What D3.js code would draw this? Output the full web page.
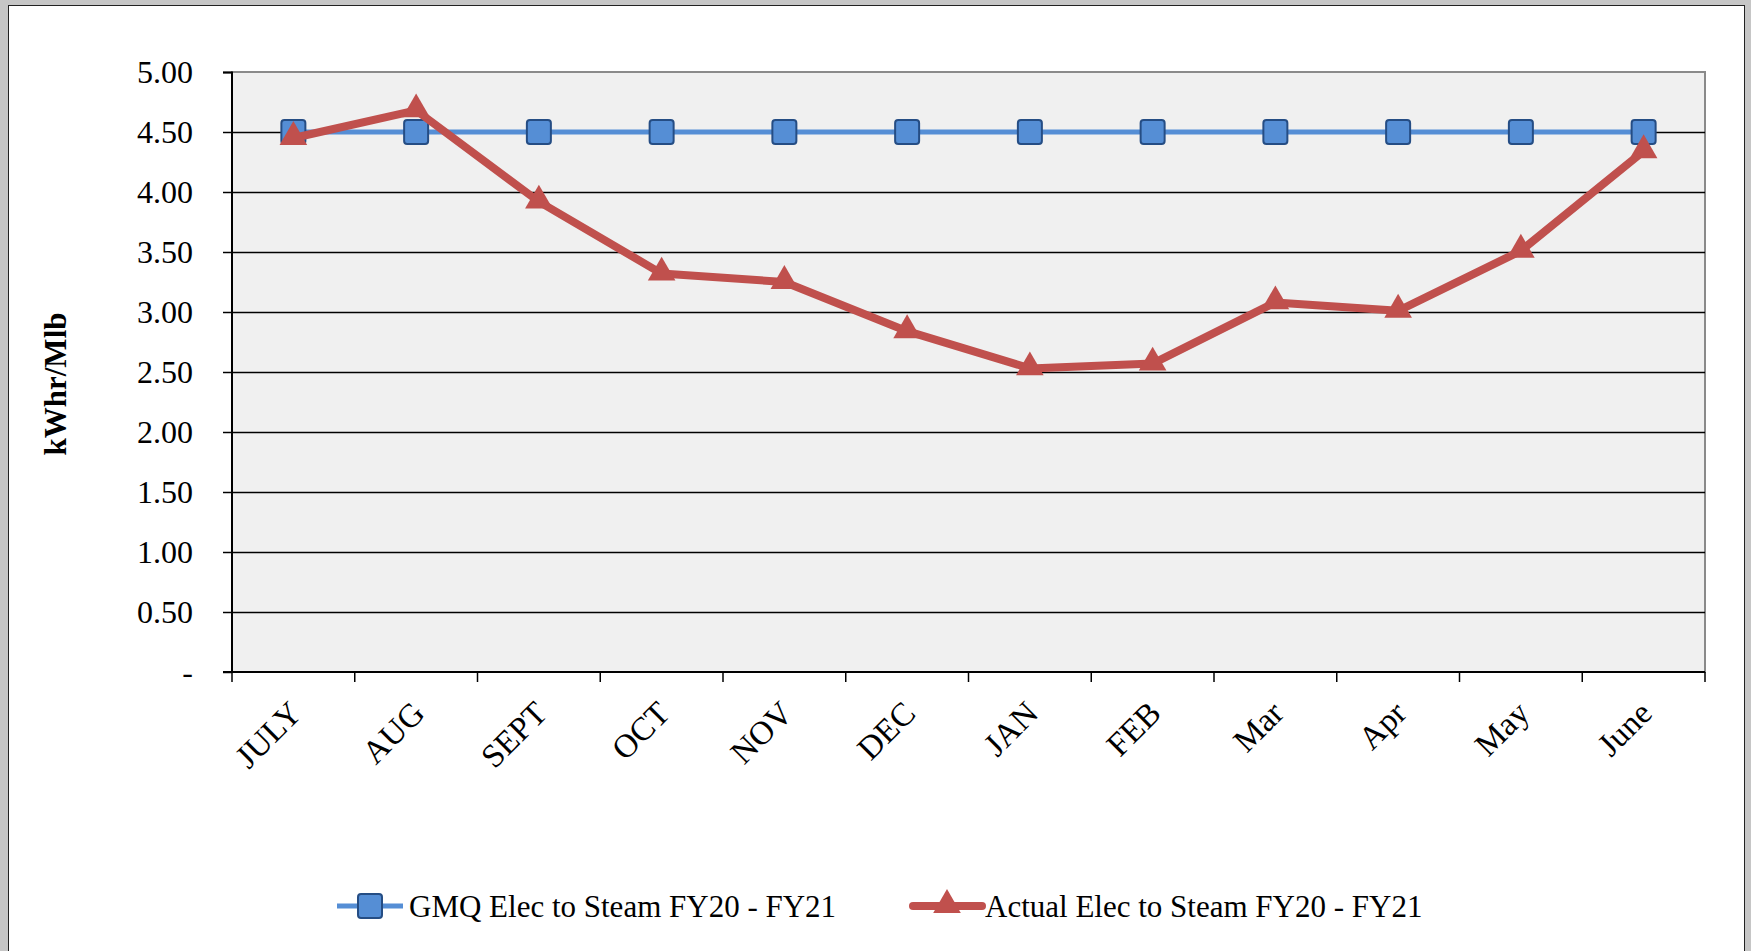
<!DOCTYPE html>
<html>
<head>
<meta charset="utf-8">
<script src="https://cdn.jsdelivr.net/npm/d3@7"></script>
<style>
  body { margin: 0; background: #c6c6c6; }
  svg { display: block; }
  text { font-family: "Liberation Serif", "Times New Roman", serif; fill: #000; }
</style>
</head>
<body>
<svg id="chart" width="1751" height="951"></svg>
<script>
var months = ["JULY", "AUG", "SEPT", "OCT", "NOV", "DEC", "JAN", "FEB", "Mar", "Apr", "May", "June"];
var gmqValues = [4.5, 4.5, 4.5, 4.5, 4.5, 4.5, 4.5, 4.5, 4.5, 4.5, 4.5, 4.5];
var actualValues = [4.45, 4.68, 3.92, 3.32, 3.25, 2.84, 2.53, 2.57, 3.08, 3.01, 3.51, 4.34];
var yTicks = [0, 0.5, 1, 1.5, 2, 2.5, 3, 3.5, 4, 4.5, 5];
var seriesNames = ["GMQ Elec to Steam FY20 - FY21", "Actual Elec to Steam FY20 - FY21"];

var svg = d3.select("#chart"),
    margin = {top: 72, right: 46, bottom: 279, left: 232},
    width = +svg.attr("width") - margin.left - margin.right,
    height = +svg.attr("height") - margin.top - margin.bottom;

// white panel
svg.append("rect")
    .attr("x", 8.5).attr("y", 5.5)
    .attr("width", 1736).attr("height", 960)
    .attr("fill", "#fff").attr("stroke", "#222").attr("stroke-width", 1);

var g = svg.append("g").attr("transform", "translate(" + margin.left + "," + margin.top + ")");

var x = d3.scaleBand().domain(months).range([0, width]);
var y = d3.scaleLinear().domain([0, 5]).range([height, 0]);

// plot area
g.append("rect")
    .attr("width", width).attr("height", height)
    .attr("fill", "#f0f0f0").attr("stroke", "#8a8a8a").attr("stroke-width", 2);

// gridlines
g.append("g").selectAll("line")
    .data(yTicks.slice(1, -1))
    .enter().append("line")
    .attr("x1", 0).attr("x2", width)
    .attr("y1", function(d) { return Math.round(y(d)) + 0.5; })
    .attr("y2", function(d) { return Math.round(y(d)) + 0.5; })
    .attr("stroke", "#000").attr("stroke-width", 1.4);

// y axis
var yAxis = g.append("g")
    .call(d3.axisLeft(y).tickValues(yTicks).tickSize(9).tickPadding(30)
      .tickFormat(function(d) { return d === 0 ? "-" : d3.format(".2f")(d); }));
yAxis.select(".domain").attr("stroke", "#000").attr("stroke-width", 2).attr("d", "M-9,0.5H0V" + height + "H-9");
yAxis.selectAll(".tick line").attr("stroke", "#000").attr("stroke-width", 1.5);
yAxis.selectAll(".tick text").style("font-size", "32px").attr("font-family", null);

// x axis
var xAxis = g.append("g").attr("transform", "translate(0," + height + ")");
xAxis.append("line").attr("x1", -9).attr("x2", width).attr("stroke", "#000").attr("stroke-width", 2);
xAxis.selectAll(".xt")
    .data(d3.range(months.length + 1))
    .enter().append("line")
    .attr("x1", function(i) { return i * x.step(); })
    .attr("x2", function(i) { return i * x.step(); })
    .attr("y1", 0).attr("y2", 10)
    .attr("stroke", "#000").attr("stroke-width", 1.5);
xAxis.selectAll(".xl")
    .data(months)
    .enter().append("text")
    .attr("transform", function(d) {
      return "translate(" + (x(d) + x.bandwidth() / 2 + 2) + ",35) rotate(-45)";
    })
    .attr("text-anchor", "end")
    .attr("dy", "0.35em")
    .style("font-size", "33px")
    .text(function(d) { return d; });

// y axis title
svg.append("text")
    .attr("transform", "translate(66,384) rotate(-90)")
    .attr("text-anchor", "middle")
    .style("font-size", "31px").style("font-weight", "bold")
    .text("kWhr/Mlb");

var line = d3.line()
    .x(function(d, i) { return x(months[i]) + x.bandwidth() / 2; })
    .y(function(d) { return y(d); });

var tri = d3.symbol().type(d3.symbolTriangle).size(330);

function drawSquare(sel, cx, cy) {
  sel.append("rect")
      .attr("x", cx - 12).attr("y", cy - 12)
      .attr("width", 24).attr("height", 24).attr("rx", 3)
      .attr("fill", "#558ed5").attr("stroke", "#254d84").attr("stroke-width", 2);
}

// GMQ series
g.append("path").datum(gmqValues)
    .attr("d", line).attr("fill", "none")
    .attr("stroke", "#558ed5").attr("stroke-width", 5);

gmqValues.forEach(function(v, i) {
  drawSquare(g, x(months[i]) + x.bandwidth() / 2, y(v));
});

// Actual series
g.append("path").datum(actualValues)
    .attr("d", line).attr("fill", "none")
    .attr("stroke", "#c0504d").attr("stroke-width", 8).attr("stroke-linejoin", "round");

g.selectAll(".tri")
    .data(actualValues)
    .enter().append("path")
    .attr("d", tri)
    .attr("transform", function(d, i) {
      return "translate(" + (x(months[i]) + x.bandwidth() / 2) + "," + (y(d) - 1) + ")";
    })
    .attr("fill", "#c0504d");

// legend
var leg = svg.append("g").attr("transform", "translate(0,906)");
leg.append("line").attr("x1", 337).attr("x2", 403).attr("stroke", "#558ed5").attr("stroke-width", 5);
drawSquare(leg, 370, 0);
leg.append("text").attr("x", 409).attr("dy", "0.35em").style("font-size", "31px").text(seriesNames[0]);

leg.append("line").attr("x1", 913).attr("x2", 982).attr("stroke", "#c0504d").attr("stroke-width", 8).attr("stroke-linecap", "round");
leg.append("path").attr("d", tri).attr("transform", "translate(947,-1)").attr("fill", "#c0504d");
leg.append("text").attr("x", 985).attr("dy", "0.35em").style("font-size", "31px").text(seriesNames[1]);
</script>
</body>
</html>
